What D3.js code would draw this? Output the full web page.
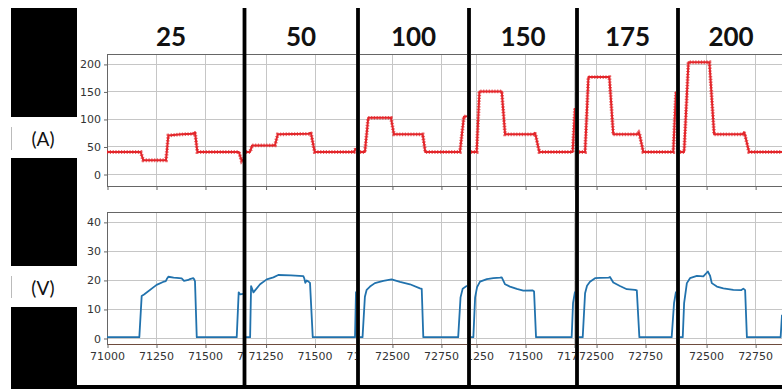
<!DOCTYPE html>
<html>
<head>
<meta charset="utf-8">
<script src="https://cdn.jsdelivr.net/npm/d3@7"></script>
<style>
  body { margin: 0; background: #fff; }
  svg { display: block; }
</style>
</head>
<body>
<svg id="chart" width="782" height="389"></svg>
<script>
// ---- data -------------------------------------------------------------
const loads = ["25", "50", "100", "150", "175", "200"];

// visible time window (sample index) of each panel
const xWindows = [
  [71000, 71694], [71150, 71712], [72337, 72883],
  [71224, 71755], [72413, 72908], [72367, 72887]
];

const ampTicks = [0, 50, 100, 150, 200];
const voltTicks = [0, 10, 20, 30, 40];
const timeTickStep = 250;

// current (A) traces: [sample, value]
const a25 = [[71000,40],[71172,40],[71185,25],[71301,25],[71313,70],[71380,72],[71440,73],[71449,76],[71461,40],[71673,40],[71687,24],[71694,27]];
const a50 = [[71150,40],[71171,40],[71181,52],[71298,52],[71312,72],[71470,73],[71478,75],[71482,74],[71501,40],[71702,40],[71712,47]];
const a100 = [[72337,40],[72362,40],[72379,102],[72495,102],[72510,72],[72657,72],[72670,40],[72847,40],[72867,104],[72883,105]];
const a150 = [[71224,40],[71253,40],[71267,150],[71381,150],[71398,72],[71544,72],[71550,75],[71553,72],[71573,40],[71743,40],[71755,120]];
const a175 = [[72413,40],[72444,40],[72461,176],[72568,176],[72588,72],[72712,72],[72718,75],[72722,72],[72741,40],[72894,40],[72908,150]];
const a200 = [[72367,40],[72388,40],[72410,203],[72517,203],[72541,72],[72686,72],[72693,76],[72697,73],[72719,40],[72887,40]];

// voltage (V) traces: [sample, value]
const v25 = [[71000,0.3],[71165,0.3],[71177,14.5],[71189,15],[71253,18.3],[71286,19.3],[71300,19.6],[71305,20.3],[71313,21.1],[71340,20.8],[71356,20.7],[71381,20.5],[71393,19.7],[71415,20],[71423,20.3],[71440,20.6],[71445,20.2],[71449,19.5],[71458,0.3],[71662,0.3],[71672,15.7],[71680,15],[71694,15.2]];
const v50 = [[71150,0.3],[71171,0.3],[71176,17.9],[71188,15.7],[71222,18.5],[71256,20.2],[71290,20.9],[71315,21.7],[71380,21.6],[71443,21.3],[71448,20.5],[71453,19],[71460,19.8],[71468,19.5],[71477,19],[71491,0.3],[71707,0.3],[71712,16]];
const v100 = [[72337,0.3],[72350,0.3],[72362,14.2],[72371,16.6],[72388,17.7],[72413,18.9],[72456,19.7],[72498,20.2],[72541,19.3],[72592,18.5],[72643,17.1],[72652,16.9],[72660,0.3],[72838,0.3],[72850,14],[72861,17],[72883,18]];
const v150 = [[71224,0.3],[71236,0.3],[71245,14],[71255,17.5],[71270,19.4],[71305,20.3],[71338,20.6],[71372,20.8],[71381,20.9],[71398,18.5],[71423,17.7],[71458,16.9],[71491,16.3],[71539,16.4],[71546,16],[71556,0.3],[71738,0.3],[71745,12],[71755,16]];
const v175 = [[72413,0.3],[72432,0.3],[72444,15.4],[72454,18],[72469,19.4],[72495,20.6],[72520,20.7],[72565,20.8],[72571,21],[72588,19.1],[72622,17.9],[72657,16.8],[72699,16.6],[72708,16.4],[72721,0.3],[72886,0.3],[72898,12],[72908,16]];
const v200 = [[72367,0.3],[72381,0.3],[72388,12],[72402,18.9],[72418,20.6],[72453,21.4],[72486,21.2],[72509,22.9],[72520,21.5],[72529,18.9],[72555,17.7],[72588,17.1],[72639,16.6],[72680,16.5],[72690,17],[72699,16.5],[72708,0.3],[72880,0.3],[72887,8]];

const ampSeries = [a25, a50, a100, a150, a175, a200];
const voltSeries = [v25, v50, v100, v150, v175, v200];

// ---- layout -----------------------------------------------------------
const W = 782, H = 389;
const panels = [
  { clip: [77, 243],  plot: [107, 243] },
  { clip: [246, 356], plot: [246, 356] },
  { clip: [360, 467], plot: [360, 467] },
  { clip: [471, 575], plot: [471, 575] },
  { clip: [579, 676], plot: [579, 676] },
  { clip: [680, 782], plot: [680, 782] }
];
const dividers = [244.5, 358, 469, 577, 678];
const topBox = { y0: 54, y1: 186 };
const botBox = { y0: 212, y1: 344 };

const yA = d3.scaleLinear().domain([-21.8, 218]).range([topBox.y1, topBox.y0]);
const yV = d3.scaleLinear().domain([-2.07, 43.4]).range([botBox.y1, botBox.y0]);

const svg = d3.select("#chart");
svg.append("rect").attr("width", W).attr("height", H).attr("fill", "#fff");

const GRID = "#c6c6c6", SPINE = "#666", TEXT = "#333";
const tickFont = "DejaVu Sans, sans-serif";
const tickSize = 11;
const minGlyphShown = 2;
const fmt = d3.format("d");

// width of one tick-label digit, measured once
const probe = svg.append("text").attr("font-family", tickFont).attr("font-size", tickSize).text("71000");
const digitW = probe.node().getComputedTextLength() / 5;
probe.remove();

const defs = svg.append("defs");

panels.forEach((p, i) => {
  const id = "clip" + i;
  defs.append("clipPath").attr("id", id)
    .append("rect").attr("x", p.clip[0]).attr("y", 8)
    .attr("width", p.clip[1] - p.clip[0]).attr("height", H - 8);

  const g = svg.append("g").attr("clip-path", `url(#${id})`);
  const x = d3.scaleLinear().domain(xWindows[i]).range(p.plot);
  const w = xWindows[i];
  const xt = d3.range(Math.ceil((w[0] - 200) / timeTickStep) * timeTickStep, w[1] + 200, timeTickStep);
  const xtIn = xt.filter(t => t >= w[0] && t <= w[1] + 0.5);
  const tickMarks = xt.filter(t => x(t) >= p.plot[0] - 0.5 && x(t) <= p.clip[1] + 0.5);

  [[topBox, yA, ampTicks], [botBox, yV, voltTicks]].forEach(([box, y, yt]) => {
    // horizontal grid
    g.append("g").selectAll("line").data(yt).join("line")
      .attr("x1", p.plot[0]).attr("x2", p.clip[1])
      .attr("y1", d => Math.round(y(d)) + 0.5).attr("y2", d => Math.round(y(d)) + 0.5)
      .attr("stroke", GRID).attr("stroke-width", 1);
    // vertical grid
    g.append("g").selectAll("line").data(xtIn).join("line")
      .attr("x1", d => Math.round(x(d)) + 0.5).attr("x2", d => Math.round(x(d)) + 0.5)
      .attr("y1", box.y0).attr("y2", box.y1)
      .attr("stroke", GRID).attr("stroke-width", 1);
    // top & bottom spines
    [box.y0, box.y1].forEach(yy => {
      g.append("line").attr("x1", p.plot[0]).attr("x2", p.clip[1])
        .attr("y1", yy + 0.5).attr("y2", yy + 0.5)
        .attr("stroke", box === botBox && yy === box.y1 ? "#6e4c3e" : SPINE)
        .attr("stroke-width", 1);
    });
    // bottom tick marks
    const axMarks = d3.axisBottom(x).tickValues(tickMarks).tickSize(3.5).tickFormat("");
    const axg = g.append("g").attr("transform", `translate(0.5,${box.y1 + 0.5})`).call(axMarks);
    axg.select(".domain").remove();
    axg.selectAll("line").attr("stroke", SPINE);

    if (i === 0) {
      g.append("line").attr("x1", p.plot[0] + 0.5).attr("x2", p.plot[0] + 0.5)
        .attr("y1", box.y0).attr("y2", box.y1 + 0.5)
        .attr("stroke", SPINE).attr("stroke-width", 1);
      const ay = d3.axisLeft(y).tickValues(yt).tickSize(3.5).tickPadding(3);
      const ayg = g.append("g").attr("transform", `translate(${p.plot[0] + 0.5},0.5)`).call(ay);
      ayg.select(".domain").remove();
      ayg.selectAll("line").attr("stroke", SPINE);
      ayg.selectAll("text").attr("fill", TEXT).attr("font-family", tickFont).attr("font-size", tickSize);
    }
  });

  // time tick labels under the lower plot; only the characters that fall
  // inside this panel are written, the panel clip trims partial glyphs
  const labels = xt.map(t => {
    const s = fmt(t);
    const left = x(t) + 0.5 - s.length * digitW / 2;
    let k0 = 0, k1 = s.length - 1;
    while (k0 < s.length && left + (k0 + 1) * digitW <= p.clip[0] + minGlyphShown) k0++;
    while (k1 >= 0 && left + k1 * digitW >= p.clip[1] - minGlyphShown) k1--;
    return { s: k1 >= k0 ? s.slice(k0, k1 + 1) : "", x: left + k0 * digitW };
  }).filter(d => d.s.length > 0);
  g.append("g").selectAll("text").data(labels).join("text")
    .attr("x", d => d.x).attr("y", botBox.y1 + 4).attr("dy", "1.05em")
    .attr("text-anchor", "start")
    .attr("fill", TEXT).attr("font-family", tickFont).attr("font-size", tickSize)
    .text(d => d.s);

  // current trace with its ripple texture
  const lineA = d3.line().x(d => x(d[0])).y(d => yA(d[1]));
  g.append("path").datum(ampSeries[i]).attr("d", lineA)
    .attr("fill", "none").attr("stroke", "#e3262b").attr("stroke-width", 2)
    .attr("stroke-linejoin", "round");
  g.append("path").datum(ampSeries[i]).attr("d", lineA)
    .attr("fill", "none").attr("stroke", "#e3262b").attr("stroke-width", 3.8)
    .attr("stroke-dasharray", "1.2 1.6").attr("opacity", 0.7);

  // voltage trace
  const lineV = d3.line().x(d => x(d[0])).y(d => yV(d[1]));
  g.append("path").datum(voltSeries[i]).attr("d", lineV)
    .attr("fill", "none").attr("stroke", "#2172ad").attr("stroke-width", 1.8)
    .attr("stroke-linejoin", "round");

  // header
  svg.append("text")
    .attr("x", (i === 0 ? 171 : (p.clip[0] + p.clip[1]) / 2))
    .attr("y", 46)
    .attr("text-anchor", "middle")
    .attr("font-family", "Lato, 'Open Sans', sans-serif")
    .attr("font-weight", 700).attr("font-size", 26).attr("fill", "#111")
    .text(loads[i]);
});

// left label column
const labelCol = svg.append("g");
[[8, 117], [158, 266], [307, 389]].forEach(([a, b]) => {
  labelCol.append("rect").attr("x", 11).attr("y", a).attr("width", 66).attr("height", b - a).attr("fill", "#000");
});
[[127, 150], [276, 298]].forEach(([a, b]) => {
  labelCol.append("line").attr("x1", 11.5).attr("x2", 11.5).attr("y1", a).attr("y2", b)
    .attr("stroke", "#bbb").attr("stroke-width", 1);
});
[["(A)", 146], ["(V)", 295]].forEach(([t, yy]) => {
  labelCol.append("text").attr("x", 43).attr("y", yy).attr("text-anchor", "middle")
    .attr("font-family", "Lato, 'Open Sans', sans-serif").attr("font-size", 19).attr("fill", "#111")
    .text(t);
});

// panel dividers and bottom rule
dividers.forEach(cx => {
  svg.append("rect").attr("x", cx - 1.9).attr("y", 8).attr("width", 3.8).attr("height", H - 8).attr("fill", "#000");
});
svg.append("rect").attr("x", 11).attr("y", 385).attr("width", W - 11).attr("height", 4).attr("fill", "#000");
</script>
</body>
</html>
